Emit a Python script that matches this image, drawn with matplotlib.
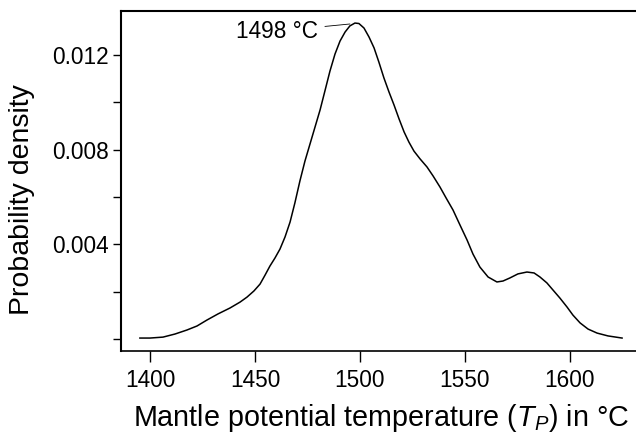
import matplotlib

matplotlib.use("Agg")
import matplotlib.pyplot as plt

# density curve (temperature in degC, density)
temperature = [
    1395.2, 1400.0, 1406.2, 1411.9, 1417.6, 1422.4, 1427.1, 1432.4, 1438.1,
    1442.9, 1446.2, 1449.5, 1452.4, 1454.8, 1457.1, 1459.5, 1461.9, 1464.3,
    1466.7, 1469.0, 1471.4, 1473.8, 1476.2, 1478.6, 1481.0, 1483.3, 1485.7,
    1488.1, 1490.5, 1492.9, 1495.2, 1497.6, 1499.5, 1501.9, 1504.3, 1506.7,
    1509.0, 1511.4, 1513.8, 1516.2, 1518.6, 1521.0, 1523.3, 1525.7, 1528.6,
    1531.9, 1534.8, 1538.1, 1541.0, 1544.3, 1547.6, 1551.0, 1553.8, 1557.1,
    1561.0, 1565.2, 1568.1, 1571.4, 1575.2, 1579.5, 1582.9, 1585.7, 1589.0,
    1591.9, 1595.2, 1598.6, 1601.4, 1604.8, 1608.6, 1612.9, 1618.1, 1624.8,
]
density = [
    0.00004, 0.00004, 0.00008, 0.00021, 0.00038, 0.00055, 0.00080, 0.00106,
    0.00131, 0.00156, 0.00177, 0.00203, 0.00232, 0.00270, 0.00308, 0.00342,
    0.00380, 0.00431, 0.00494, 0.00575, 0.00668, 0.00752, 0.00824, 0.00896,
    0.00968, 0.01048, 0.01132, 0.01204, 0.01259, 0.01297, 0.01323, 0.01335,
    0.01333, 0.01314, 0.01276, 0.01230, 0.01170, 0.01103, 0.01044, 0.00989,
    0.00930, 0.00875, 0.00832, 0.00794, 0.00761, 0.00727, 0.00689, 0.00642,
    0.00596, 0.00545, 0.00482, 0.00418, 0.00359, 0.00304, 0.00262, 0.00241,
    0.00245, 0.00258, 0.00275, 0.00283, 0.00279, 0.00262, 0.00237, 0.00207,
    0.00173, 0.00135, 0.00101, 0.00068, 0.00042, 0.00025, 0.00013, 0.00004,
]
peak_point = (1495.2, 0.01331)
label_point = (1480.0, 0.01301)
peak_label = "1498 °C"

x_ticks = [1400, 1450, 1500, 1550, 1600]
y_ticks = [0.0, 0.002, 0.004, 0.006, 0.008, 0.010, 0.012]
y_labels = ["", "", "0.004", "", "0.008", "", "0.012"]

plt.rcParams["font.family"] = ["Liberation Sans", "DejaVu Sans"]
plt.rcParams["mathtext.fontset"] = "custom"
plt.rcParams["mathtext.rm"] = "Liberation Sans"
plt.rcParams["mathtext.it"] = "Liberation Sans:italic"

fig = plt.figure(figsize=(6.36, 4.36), dpi=100)
W, H = 636, 436
left, right, top, bottom = 121, 650, 11, 351
ax = fig.add_axes([left / W, 1 - bottom / H, (right - left) / W, (bottom - top) / H])

ax.plot(temperature, density, color="black", linewidth=1.1)
ax.set_xlim(1386.2, 1638.1)
ax.set_ylim(-0.000507, 0.013859)

ax.set_xticks(x_ticks)
ax.set_yticks(y_ticks)
ax.set_yticklabels(y_labels)
ax.tick_params(axis="x", length=8, width=1, pad=5, labelsize=16.3)
ax.tick_params(axis="y", length=6, width=1, pad=3, labelsize=16.3)

for side in ("top", "left"):
    ax.spines[side].set_linewidth(1.5)
ax.spines["bottom"].set_linewidth(1.2)
ax.spines["right"].set_visible(False)

ax.annotate(
    peak_label,
    xy=peak_point,
    xytext=label_point,
    ha="right",
    va="center",
    fontsize=16.3,
    arrowprops=dict(arrowstyle="-", color="black", linewidth=0.6, shrinkA=3, shrinkB=0),
)

fig.text(22 / W, 1 - 200 / H, "Probability density", rotation=90,
         ha="center", va="center", fontsize=20.5)
fig.text(381 / W, 1 - 418 / H, "Mantle potential temperature ($T_P$) in °C",
         ha="center", va="center", fontsize=20.7)

fig.savefig("out.png", dpi=100)
